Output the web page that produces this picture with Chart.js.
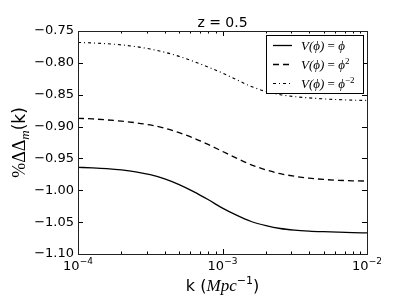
<!DOCTYPE html>
<html>
<head>
<meta charset="utf-8">
<script src="https://cdn.jsdelivr.net/npm/chart.js@4.4.0/dist/chart.umd.min.js"></script>
<style>
    html, body { margin: 0; padding: 0; background: #fff; }
    #wrap { width: 409px; height: 307px; }
</style>
</head>
<body>
<div id="wrap"><canvas id="chart" width="409" height="307"></canvas></div>
<script>
// Wavenumbers k (Mpc^-1) and the three potentials
const kValues = [
    1.00e-4, 1.26e-4, 1.58e-4, 2.00e-4, 2.51e-4, 3.16e-4, 3.98e-4, 5.01e-4, 6.31e-4, 7.94e-4,
    1.00e-3, 1.26e-3, 1.58e-3, 2.00e-3, 2.51e-3, 3.16e-3, 3.98e-3, 5.01e-3, 6.31e-3, 7.94e-3,
    1.00e-2
];
const linearPhi = [
    -0.964, -0.9648, -0.966, -0.968, -0.971, -0.9755, -0.982, -0.991, -1.002, -1.0145,
    -1.028, -1.0395, -1.049, -1.0555, -1.060, -1.0625, -1.064, -1.065, -1.0658, -1.0665,
    -1.067
];
const quadPhi = [
    -0.887, -0.888, -0.8895, -0.8915, -0.894, -0.8975, -0.9025, -0.9095, -0.918, -0.928,
    -0.939, -0.950, -0.960, -0.968, -0.974, -0.978, -0.981, -0.983, -0.9843, -0.9851,
    -0.9855
];
const invQuadPhi = [
    -0.768, -0.7688, -0.770, -0.7718, -0.7745, -0.7783, -0.7833, -0.7898, -0.7978, -0.8065,
    -0.816, -0.8268, -0.837, -0.845, -0.850, -0.853, -0.855, -0.8565, -0.8577, -0.8585,
    -0.859
];

// Axis ticks
const xTickValues = [1e-4, 1e-3, 1e-2];
const xTickExponents = ['\u22124', '\u22123', '\u22122'];
const xMinorTicks = [2e-4, 3e-4, 4e-4, 5e-4, 6e-4, 7e-4, 8e-4, 9e-4,
                     2e-3, 3e-3, 4e-3, 5e-3, 6e-3, 7e-3, 8e-3, 9e-3];
const yTickValues = [-1.10, -1.05, -1.00, -0.95, -0.90, -0.85, -0.80, -0.75];

// Legend exponents of phi for each series
const legendExponents = ['', '2', '\u22122'];

const toPoints = (ys) => ys.map((y, i) => ({ x: kValues[i], y: y }));

const SANS = '"DejaVu Sans", sans-serif';
const SERIF = '"Liberation Serif", "DejaVu Serif", serif';

/**
 * Draw frame, inward ticks, titles and the boxed legend
 */
const decorPlugin = {
    id: 'decor',
    afterDraw(chart) {
        const ctx = chart.ctx;
        const area = chart.chartArea;
        const xs = chart.scales.x;
        const ys = chart.scales.y;

        ctx.save();
        ctx.strokeStyle = '#000';
        ctx.lineWidth = 1;

        // Ticks (inward, on all four sides)
        ctx.beginPath();
        xTickValues.forEach(v => {
            const px = Math.round(xs.getPixelForValue(v)) + 0.5;
            ctx.moveTo(px, area.bottom); ctx.lineTo(px, area.bottom - 5);
            ctx.moveTo(px, area.top); ctx.lineTo(px, area.top + 5);
        });
        xMinorTicks.forEach(v => {
            const px = Math.round(xs.getPixelForValue(v)) + 0.5;
            ctx.moveTo(px, area.bottom); ctx.lineTo(px, area.bottom - 2.5);
            ctx.moveTo(px, area.top); ctx.lineTo(px, area.top + 2.5);
        });
        yTickValues.forEach(v => {
            const py = Math.round(ys.getPixelForValue(v)) + 0.5;
            ctx.moveTo(area.left, py); ctx.lineTo(area.left + 5, py);
            ctx.moveTo(area.right, py); ctx.lineTo(area.right - 5, py);
        });
        ctx.stroke();

        // Frame
        ctx.strokeStyle = '#222';
        ctx.strokeRect(Math.round(area.left) + 0.5, Math.round(area.top) + 0.5,
            Math.round(area.right - area.left), Math.round(area.bottom - area.top));

        ctx.fillStyle = '#000';
        ctx.textBaseline = 'alphabetic';

        // X tick labels 10^n
        xTickValues.forEach((v, i) => {
            const px = xs.getPixelForValue(v);
            ctx.font = '13px ' + SANS;
            const wBase = ctx.measureText('10').width;
            ctx.font = '9px ' + SANS;
            const wExp = ctx.measureText(xTickExponents[i]).width;
            const x0 = px - (wBase + wExp) / 2;
            ctx.font = '13px ' + SANS;
            ctx.textAlign = 'left';
            ctx.fillText('10', x0, area.bottom + 16);
            ctx.font = '9px ' + SANS;
            ctx.fillText(xTickExponents[i], x0 + wBase, area.bottom + 10);
        });

        // Title
        ctx.font = '14px ' + SANS;
        ctx.textAlign = 'center';
        ctx.fillText('z = 0.5', (area.left + area.right) / 2, 27);

        // X axis title: k (Mpc^-1)
        const xParts = [
            { t: 'k (', f: '16px ' + SANS, dy: 0 },
            { t: 'Mpc', f: 'italic 17px ' + SERIF, dy: 0 },
            { t: '\u22121', f: '11px ' + SANS, dy: -7 },
            { t: ')', f: '16px ' + SANS, dy: 0 }
        ];
        drawParts(ctx, xParts, (area.left + area.right) / 2, 291);

        // Y axis title: %ΔΔ_m(k), rotated
        ctx.save();
        ctx.translate(25, (area.top + area.bottom) / 2);
        ctx.rotate(-Math.PI / 2);
        const yParts = [
            { t: '%\u0394\u0394', f: '18px ' + SERIF, dy: 0 },
            { t: 'm', f: 'italic 13px ' + SERIF, dy: 4 },
            { t: '(k)', f: '17px ' + SANS, dy: 0 }
        ];
        drawParts(ctx, yParts, 0, 0);
        ctx.restore();

        // Legend box
        const lx = 266, ly = 35, lw = 97, lh = 58;
        ctx.fillStyle = '#fff';
        ctx.fillRect(lx, ly, lw, lh);
        ctx.strokeStyle = '#000';
        ctx.lineWidth = 1;
        ctx.strokeRect(lx + 0.5, ly + 0.5, lw, lh);

        chart.data.datasets.forEach((ds, i) => {
            const rowY = ly + 10.5 + i * 19;
            ctx.save();
            ctx.strokeStyle = ds.borderColor;
            ctx.lineWidth = ds.borderWidth;
            ctx.setLineDash(ds.borderDash || []);
            ctx.beginPath();
            ctx.moveTo(lx + 7, rowY);
            ctx.lineTo(lx + 26, rowY);
            ctx.stroke();
            ctx.restore();

            ctx.fillStyle = '#000';
            const parts = [
                { t: 'V(\u03d5)', f: 'italic 13px ' + SERIF, dy: 0 },
                { t: ' = ', f: '13px ' + SERIF, dy: 0 },
                { t: '\u03d5', f: 'italic 13px ' + SERIF, dy: 0 }
            ];
            if (legendExponents[i]) {
                parts.push({ t: legendExponents[i], f: '9px ' + SERIF, dy: -5 });
            }
            drawPartsLeft(ctx, parts, lx + 35, rowY + 4);
        });

        ctx.restore();
    }
};

// Draw a run of text pieces centred at (cx, y)
function drawParts(ctx, parts, cx, y) {
    let total = 0;
    parts.forEach(p => { ctx.font = p.f; total += ctx.measureText(p.t).width; });
    drawPartsLeft(ctx, parts, cx - total / 2, y);
}

function drawPartsLeft(ctx, parts, x, y) {
    ctx.textAlign = 'left';
    parts.forEach(p => {
        ctx.font = p.f;
        ctx.fillText(p.t, x, y + p.dy);
        x += ctx.measureText(p.t).width;
    });
}

const ctx = document.getElementById('chart').getContext('2d');
new Chart(ctx, {
    type: 'line',
    data: {
        datasets: [
            { label: 'V(phi) = phi', data: toPoints(linearPhi), borderColor: '#000', borderWidth: 1.3, borderDash: [] },
            { label: 'V(phi) = phi^2', data: toPoints(quadPhi), borderColor: '#000', borderWidth: 1.3, borderDash: [6, 4] },
            { label: 'V(phi) = phi^-2', data: toPoints(invQuadPhi), borderColor: '#000', borderWidth: 1.1, borderDash: [3, 3, 1, 3] }
        ]
    },
    options: {
        responsive: false,
        animation: false,
        layout: { padding: { left: 0, right: 42, top: 31, bottom: 0 } },
        elements: {
            point: { radius: 0 },
            line: { cubicInterpolationMode: 'monotone', fill: false }
        },
        plugins: {
            legend: { display: false },
            tooltip: { enabled: false },
            title: { display: false }
        },
        scales: {
            x: {
                type: 'logarithmic',
                min: 1e-4,
                max: 1e-2,
                grid: { display: false, drawTicks: false },
                border: { display: false },
                ticks: { display: false },
                afterFit: (scale) => { scale.height = 53; }
            },
            y: {
                type: 'linear',
                min: -1.10,
                max: -0.75,
                grid: { display: false, drawTicks: false },
                border: { display: false },
                afterBuildTicks: (scale) => { scale.ticks = yTickValues.map(v => ({ value: v })); },
                ticks: {
                    color: '#000',
                    padding: 4,
                    font: { family: 'DejaVu Sans', size: 13 },
                    callback: (v) => v.toFixed(2).replace('-', '\u2212')
                },
                afterFit: (scale) => { scale.width = 78; }
            }
        }
    },
    plugins: [decorPlugin]
});
</script>
</body>
</html>
